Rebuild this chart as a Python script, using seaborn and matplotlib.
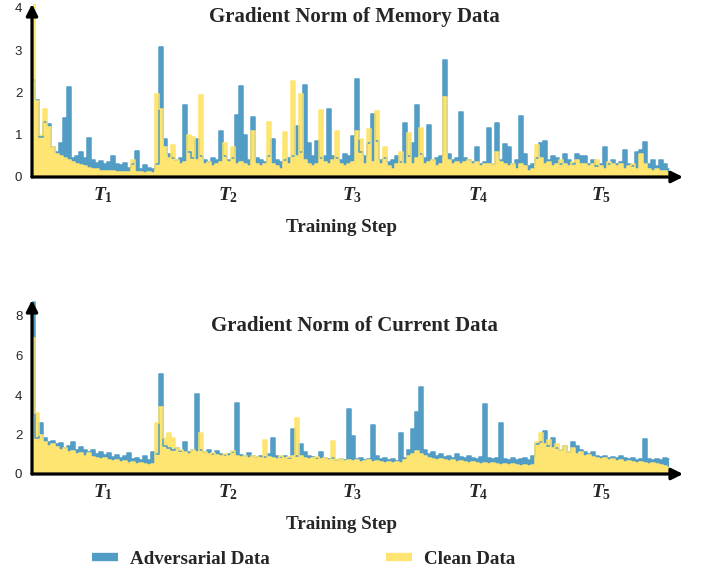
import numpy as np
import pandas as pd
import matplotlib
matplotlib.use("Agg")
import matplotlib.pyplot as plt
from matplotlib.lines import Line2D
import seaborn as sns

# ---------------- data ----------------
mem_adv = [
    2.3, 1.82, 0.95, 1.3, 1.25, 0.7, 0.6, 0.8, 1.4, 2.13,
    0.45, 0.5, 0.6, 0.45, 0.92, 0.4, 0.32, 0.38, 0.3, 0.35,
    0.5, 0.3, 0.28, 0.32, 0.22, 0.3, 0.62, 0.2, 0.28, 0.22,
    0.2,
    0.3, 3.08, 0.9, 0.55, 0.45, 0.4, 0.45, 1.7, 0.6, 0.45,
    0.9, 0.5, 0.4, 0.35, 0.45, 0.4, 1.1, 0.5, 0.4, 0.45,
    1.47, 2.15, 1.0, 0.4, 1.42, 0.45, 0.4, 0.35, 0.5, 0.9,
    0.4, 0.35,
    0.4, 0.45, 0.5, 1.2, 0.6, 2.18, 0.8, 0.5, 0.85, 0.45,
    0.5, 1.6, 0.5, 0.45, 0.4, 0.55, 0.5, 0.98, 2.33, 0.6,
    0.5, 0.8, 1.5, 0.85, 0.4, 0.45, 0.35, 0.4, 0.5, 0.35,
    1.28,
    0.5, 0.8, 1.7, 0.55, 0.45, 1.23, 0.4, 0.45, 0.5, 2.77,
    0.55, 0.4, 0.45, 1.55, 0.45, 0.4, 0.35, 0.72, 0.3, 0.35,
    1.17, 0.3, 1.28, 0.4, 0.78, 0.7, 0.3, 0.4, 1.45, 0.55,
    0.25, 0.3,
    0.45, 0.8, 0.85, 0.4, 0.5, 0.45, 0.3, 0.55, 0.4, 0.3,
    0.55, 0.5, 0.5, 0.3, 0.4, 0.25, 0.3, 0.72, 0.3, 0.4,
    0.3, 0.35, 0.65, 0.3, 0.25, 0.6, 0.65, 0.83, 0.3, 0.4,
    0.25, 0.4, 0.3, 0.2,
]
mem_clean = [
    4.2, 1.8, 1.0, 1.6, 1.18, 0.7, 0.55, 0.5, 0.45, 0.4,
    0.35, 0.3, 0.28, 0.25, 0.22, 0.2, 0.18, 0.15, 0.15, 0.14,
    0.15, 0.13, 0.12, 0.13, 0.12, 0.4, 0.12, 0.12, 0.1, 0.12,
    0.1,
    1.96, 1.6, 0.7, 0.45, 0.76, 0.4, 0.3, 0.35, 1.0, 0.95,
    0.4, 1.93, 0.3, 0.35, 0.25, 0.3, 0.35, 0.8, 0.35, 0.7,
    0.3, 0.35, 0.3, 0.25, 1.1, 0.3, 0.25, 0.3, 1.3, 0.3,
    0.25, 0.2,
    1.07, 0.3, 2.28, 0.5, 1.97, 0.4, 0.3, 0.25, 0.3, 1.58,
    0.35, 0.3, 0.4, 1.1, 0.3, 0.25, 0.3, 0.35, 1.1, 0.9,
    0.3, 1.13, 0.35, 1.57, 0.3, 0.7, 0.25, 0.2, 0.3, 0.6,
    0.3,
    1.05, 0.3, 0.45, 1.17, 0.3, 0.35, 0.4, 0.25, 0.3, 1.89,
    0.4, 0.3, 0.35, 0.3, 0.35, 0.4, 0.3, 0.35, 0.25, 0.3,
    0.3, 0.3, 0.6, 0.35, 0.3, 0.25, 0.3, 0.2, 0.3, 0.25,
    0.15, 0.2,
    0.76, 0.45, 0.3, 0.35, 0.25, 0.3, 0.4, 0.3, 0.25, 0.35,
    0.4, 0.3, 0.3, 0.25, 0.3, 0.4, 0.25, 0.2, 0.35, 0.3,
    0.25, 0.3, 0.2, 0.25, 0.3, 0.2, 0.55, 0.3, 0.2, 0.15,
    0.2, 0.15, 0.15, 0.1,
]
cur_adv = [
    8.7, 1.8, 2.6, 1.8, 1.6, 1.65, 1.5, 1.55, 1.3, 1.4,
    1.6, 1.2, 1.35, 1.2, 1.1, 1.2, 1.0, 1.1, 0.95, 1.05,
    0.85, 0.95, 0.8, 0.9, 1.05, 0.75, 0.8, 0.7, 0.9, 0.7,
    1.1,
    1.0, 5.06, 1.4, 1.3, 1.2, 1.3, 1.15, 1.6, 1.1, 1.2,
    4.03, 1.2, 1.1, 1.2, 1.0, 1.15, 1.0, 0.95, 1.0, 1.1,
    3.6, 0.95, 0.9, 1.05, 0.9, 0.85, 0.9, 0.85, 1.0, 1.8,
    0.9, 0.85,
    0.9, 0.8, 2.3, 0.9, 1.5, 1.1, 0.9, 0.85, 0.8, 1.1,
    0.8, 0.75, 0.8, 0.7, 0.75, 0.7, 3.3, 1.9, 0.75, 0.8,
    0.7, 0.75, 2.5, 0.9, 0.75, 0.8, 0.7, 0.75, 0.65, 2.1,
    0.8,
    1.2, 2.3, 3.15, 4.4, 1.2, 1.0, 1.1, 0.9, 1.0, 0.85,
    0.9, 0.8, 1.0, 0.85, 0.8, 0.9, 0.8, 0.75, 0.85, 3.55,
    0.8, 0.75, 0.8, 2.6, 0.75, 0.7, 0.8, 0.7, 0.75, 0.8,
    0.7, 0.9,
    1.5, 1.6, 2.2, 1.4, 1.8, 1.3, 1.2, 1.4, 1.1, 1.6,
    1.4, 1.2, 1.1, 1.0, 1.1, 0.9, 0.85, 0.9, 0.8, 0.85,
    0.8, 0.9, 0.8, 0.75, 0.8, 0.7, 0.75, 1.75, 0.75, 0.7,
    0.75, 0.7, 0.8, 0.75,
]
cur_clean = [
    6.9, 3.1, 2.0, 1.6, 1.4, 1.5, 1.35, 1.2, 1.3, 1.1,
    1.15, 1.0, 1.05, 0.9, 1.05, 0.85, 0.8, 0.75, 0.8, 0.7,
    0.65, 0.7, 0.6, 0.65, 0.55, 0.6, 0.5, 0.55, 0.5, 0.45,
    0.5,
    2.6, 3.4, 1.8, 2.1, 1.8, 1.3, 1.2, 1.1, 1.0, 1.2,
    1.1, 2.1, 1.1, 1.0, 1.05, 0.95, 0.9, 1.0, 0.9, 1.15,
    0.9, 0.85, 0.9, 0.8, 0.9, 0.85, 0.8, 1.7, 0.85, 0.8,
    0.75, 0.9,
    0.8, 0.85, 0.9, 2.85, 0.9, 0.8, 0.75, 0.8, 0.85, 0.75,
    0.8, 0.7, 1.65, 0.7, 0.75, 0.65, 0.7, 0.65, 0.7, 0.6,
    0.65, 0.7, 0.6, 0.65, 0.6, 0.55, 0.6, 0.55, 0.6, 0.55,
    0.7,
    0.9, 1.0, 1.15, 1.0, 0.9, 0.8, 0.75, 0.7, 0.75, 0.7,
    0.65, 0.7, 0.6, 0.65, 0.6, 0.55, 0.6, 0.55, 0.5, 0.55,
    0.5, 0.55, 0.5, 0.45, 0.5, 0.45, 0.5, 0.45, 0.4, 0.45,
    0.4, 0.45,
    1.6, 2.1, 1.5, 1.7, 1.3, 1.5, 1.2, 1.4, 1.1, 1.3,
    1.0, 1.1, 0.9, 0.95, 0.85, 0.8, 0.75, 0.8, 0.7, 0.75,
    0.65, 0.7, 0.6, 0.65, 0.6, 0.55, 0.6, 0.55, 0.5, 0.55,
    0.5, 0.45, 0.4, 0.3,
]
task_labels = [r"$T_1$", r"$T_2$", r"$T_3$", r"$T_4$", r"$T_5$"]
series_names = ["Adversarial Data", "Clean Data"]
titles = ["Gradient Norm of Memory Data", "Gradient Norm of Current Data"]
x_label = "Training Step"
mem_yticks = [0, 1, 2, 3, 4]
cur_yticks = [0, 2, 4, 6, 8]

# ---------------- style ----------------
BLUE = "#529dc5"
YELLOW = "#fee470"
task_bounds = [30.25, 62.25, 93.75, 125.25]
task_centers = [17.5, 48.75, 79.75, 111.25, 142.0]

sns.set_style("white")
plt.rcParams["font.family"] = ["Liberation Sans", "DejaVu Sans"]
plt.rcParams["mathtext.fontset"] = "custom"
plt.rcParams["mathtext.it"] = "Liberation Serif:italic:bold"
plt.rcParams["mathtext.rm"] = "Liberation Serif:bold"
plt.rcParams["mathtext.bf"] = "Liberation Serif:bold"

serif_bold = dict(family="Liberation Serif", weight="bold")

fig = plt.figure(figsize=(7.02, 5.73), dpi=100)
W, H = 702, 573
AX_L, AX_R = 32, 683
ax_top = fig.add_axes([AX_L / W, 1 - 177 / H, (AX_R - AX_L) / W, 173 / H])
ax_bot = fig.add_axes([AX_L / W, 1 - 474 / H, (AX_R - AX_L) / W, 174 / H])

def draw(ax, adv, clean, ytop, yticks, title, title_y, ax_h):
    steps = np.arange(len(adv))
    df = pd.DataFrame({"step": steps, "adv": adv, "clean": clean})
    ax.fill_between(df["step"], 0, df["adv"], step="mid", color=BLUE, lw=0)
    sns.lineplot(data=df, x="step", y="adv", ax=ax, color=BLUE, lw=1.1,
                 drawstyle="steps-mid")
    ax.fill_between(df["step"], 0, df["clean"], step="mid", color=YELLOW,
                    lw=0)
    sns.lineplot(data=df, x="step", y="clean", ax=ax, color=YELLOW, lw=1.1,
                 drawstyle="steps-mid")
    ax.set_xlim(-0.25, 162.5)
    ax.set_ylim(0, ytop)
    for s in ax.spines.values():
        s.set_visible(False)
    ax.set_yticks(yticks)
    ax.set_yticklabels([str(t) for t in yticks], fontsize=9.5)
    ax.tick_params(axis="y", length=0, pad=7)
    ax.set_xticks(task_bounds)
    ax.set_xticklabels([""] * len(task_bounds))
    ax.tick_params(axis="x", which="major", direction="out", length=12,
                   width=2.4, color="black")
    ax.set_xticks(task_centers, minor=True)
    ax.set_xticklabels(task_labels, minor=True, fontsize=14)
    ax.tick_params(axis="x", which="minor", length=0, pad=6)
    ax.set_xlabel(x_label, fontsize=13.7, **serif_bold)
    ax.xaxis.set_label_coords((341 - AX_L) / (AX_R - AX_L), -42 / ax_h)
    ax.set_ylabel("")
    ax.text((354 - AX_L) / (AX_R - AX_L), title_y, title,
            transform=ax.transAxes, ha="center", va="center",
            fontsize=15, **serif_bold)
    for end in [(1, 0), (0, 1)]:
        ax.annotate("", xy=end, xytext=(0, 0), xycoords="axes fraction",
                    textcoords="axes fraction",
                    arrowprops=dict(arrowstyle="-|>", lw=2.3, color="black",
                                    mutation_scale=17, shrinkA=0, shrinkB=0),
                    annotation_clip=False)

draw(ax_top, mem_adv, mem_clean, 173 / 42.25, mem_yticks, titles[0],
     1 - 13 / 173, 173)
draw(ax_bot, cur_adv, cur_clean, 174 / 19.75, cur_yticks, titles[1],
     1 - 26 / 174, 174)

handles = [Line2D([0], [0], color=BLUE, lw=6, solid_capstyle="butt"),
           Line2D([0], [0], color=YELLOW, lw=6, solid_capstyle="butt")]
fig.legend(handles, series_names, loc="center", ncol=2,
           bbox_to_anchor=(304 / W, 1 - 559 / H), frameon=False,
           handlelength=1.37, handletextpad=0.63, columnspacing=6.1,
           prop=dict(family="Liberation Serif", weight="bold", size=13.7))

fig.savefig("out.png", dpi=100)
